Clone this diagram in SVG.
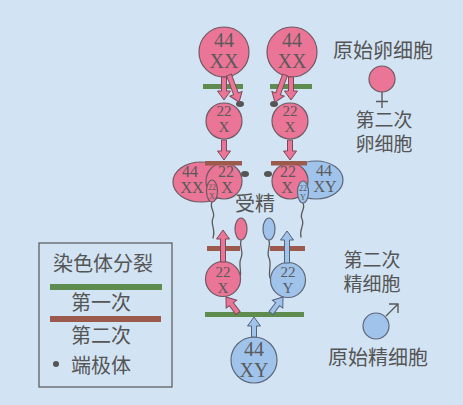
<svg xmlns="http://www.w3.org/2000/svg" width="463" height="405" viewBox="0 0 463 405">
  <style>
    .pink { fill: #ea7596; stroke: #6e5a63; stroke-width: 1.2; }
    .blue { fill: #9fc3ea; stroke: #5d6778; stroke-width: 1.2; }
    .arr-p { fill: #ea7596; stroke: #7a4a5a; stroke-width: 1; }
    .arr-b { fill: #9fc3ea; stroke: #55627a; stroke-width: 1; }
    .num { font-family: "Liberation Serif", "DejaVu Serif", serif; fill: #5a5a5a; text-anchor: middle; }
    .zh { font-family: "Noto Sans CJK SC", "Noto Sans", sans-serif; fill: #555555; text-anchor: middle; font-size: 20px; }
    .zh2 { font-family: "Liberation Sans", "Noto Sans CJK SC", sans-serif; fill: #555555; text-anchor: middle; font-size: 19px; }
    .green { fill: #5e8c4e; }
    .brown { fill: #9c5a4c; }
    .polar { fill: #555555; }
    .tail { fill: none; stroke: #5a5a5a; stroke-width: 1.3; stroke-linecap: round; }
  </style>

  <!-- background -->
  <rect x="0" y="0" width="463" height="405" fill="#d2e3f3"/>

  <!-- division bars -->
  <g id="bars">
    <rect class="green" x="203" y="84" width="40" height="5"/>
    <rect class="green" x="270" y="84" width="42" height="5"/>
    <rect class="green" x="205" y="312" width="99" height="5"/>
    <rect class="brown" x="207" y="246" width="33" height="5"/>
    <rect class="brown" x="270" y="246" width="35" height="5"/>
  </g>

  <!-- primary oocytes -->
  <g id="oocyte1">
    <circle class="pink" cx="224" cy="52" r="25"/>
    <text class="num" x="224" y="47" font-size="20">44</text>
    <text class="num" x="224" y="68" font-size="20">XX</text>
  </g>
  <g id="oocyte2">
    <circle class="pink" cx="292" cy="52" r="25"/>
    <text class="num" x="292" y="47" font-size="20">44</text>
    <text class="num" x="292" y="68" font-size="20">XX</text>
  </g>

  <!-- secondary oocytes -->
  <g id="secondary-oocyte1">
    <circle class="pink" cx="224" cy="121" r="18"/>
    <text class="num" x="224" y="116" font-size="15">22</text>
    <text class="num" x="224" y="132" font-size="15">X</text>
    <ellipse class="polar" cx="240" cy="104" rx="4" ry="3"/>
  </g>
  <g id="secondary-oocyte2">
    <circle class="pink" cx="290" cy="121" r="18"/>
    <text class="num" x="290" y="116" font-size="15">22</text>
    <text class="num" x="290" y="132" font-size="15">X</text>
    <ellipse class="polar" cx="274" cy="104" rx="4" ry="3"/>
  </g>

  <!-- fertilisation, left: XX zygote -->
  <g id="zygote-xx">
    <ellipse class="pink" cx="201" cy="182" rx="28" ry="20"/>
    <circle class="pink" cx="224" cy="181" r="18"/>
    <text class="num" x="190" y="177" font-size="16">44</text>
    <text class="num" x="192" y="193" font-size="16">XX</text>
    <text class="num" x="226" y="177" font-size="16">22</text>
    <text class="num" x="227" y="193" font-size="16">X</text>
    <path class="tail" d="M212,202 c-3,6 4,10 1,16 c-3,6 3,10 0,20"/>
    <ellipse class="pink" cx="212" cy="191" rx="5.5" ry="11"/>
    <text class="num" x="212" y="190" font-size="8">22</text>
    <text class="num" x="212" y="199" font-size="8">X</text>
    <rect class="brown" x="205" y="161" width="37" height="4.5"/>
    <ellipse class="polar" cx="245" cy="174" rx="4" ry="3"/>
  </g>

  <!-- fertilisation, right: XY zygote -->
  <g id="zygote-xy">
    <ellipse class="blue" cx="316" cy="180" rx="27" ry="19"/>
    <circle class="pink" cx="290" cy="181" r="18"/>
    <text class="num" x="324" y="176" font-size="16">44</text>
    <text class="num" x="325" y="192" font-size="16">XY</text>
    <text class="num" x="288" y="177" font-size="16">22</text>
    <text class="num" x="287" y="193" font-size="16">X</text>
    <path class="tail" d="M303,203 c3,6 -4,10 -1,16 c3,6 -3,10 -1,18"/>
    <ellipse class="blue" cx="303" cy="192" rx="5.5" ry="11"/>
    <text class="num" x="303" y="191" font-size="8">22</text>
    <text class="num" x="303" y="200" font-size="8">Y</text>
    <rect class="brown" x="271" y="161" width="36" height="4.5"/>
    <ellipse class="polar" cx="268" cy="174" rx="4" ry="3"/>
  </g>

  <!-- sperm -->
  <g id="sperm-x">
    <path class="tail" d="M241,240 c-2,7 3,12 0,18 c-3,6 1,12 -1,20"/>
    <ellipse class="pink" cx="241" cy="229" rx="6" ry="11"/>
  </g>
  <g id="sperm-y">
    <path class="tail" d="M269,240 c2,7 -3,12 0,18 c3,6 -1,12 1,20"/>
    <ellipse class="blue" cx="269" cy="229" rx="6" ry="11"/>
  </g>
  <text class="zh" x="255" y="211" font-size="19">受精</text>

  <!-- secondary spermatocytes -->
  <g id="secondary-spermatocyte-x">
    <circle class="pink" cx="223" cy="279" r="17.5"/>
    <text class="num" x="223" y="277" font-size="15">22</text>
    <text class="num" x="223" y="293" font-size="15">X</text>
  </g>
  <g id="secondary-spermatocyte-y">
    <circle class="blue" cx="288" cy="280" r="17.5"/>
    <text class="num" x="288" y="277" font-size="15">22</text>
    <text class="num" x="288" y="293" font-size="15">Y</text>
  </g>

  <!-- primary spermatocyte -->
  <g id="spermatocyte">
    <circle class="blue" cx="254" cy="360" r="23"/>
    <text class="num" x="254" y="356" font-size="20">44</text>
    <text class="num" x="254" y="377" font-size="20">XY</text>
  </g>

  <!-- connectors -->
  <g id="connectors">
    <path class="arr-p" d="M-2.5,0H2.5V14H6.5L0,23L-6.5,14H-2.5Z" transform="translate(224,77)"/>
    <path class="arr-p" d="M-2.5,0H2.5V20H6.5L0,29L-6.5,20H-2.5Z" transform="translate(229,75) rotate(-20.3)"/>
    <path class="arr-p" d="M-2.5,0H2.5V20H6.5L0,29L-6.5,20H-2.5Z" transform="translate(285,75) rotate(20.3)"/>
    <path class="arr-p" d="M-2.5,0H2.5V14H6.5L0,23L-6.5,14H-2.5Z" transform="translate(291,77)"/>
    <path class="arr-p" d="M-2.5,0H2.5V11H6.5L0,20L-6.5,11H-2.5Z" transform="translate(224,140)"/>
    <path class="arr-p" d="M-2.5,0H2.5V11H6.5L0,20L-6.5,11H-2.5Z" transform="translate(290,140)"/>
    <path class="arr-p" d="M-2.5,0H2.5V23H6.5L0,32L-6.5,23H-2.5Z" transform="translate(223,262) rotate(180)"/>
    <path class="arr-b" d="M-2.5,0H2.5V23H6.5L0,32L-6.5,23H-2.5Z" transform="translate(287,263) rotate(180)"/>
    <path class="arr-p" d="M-2.5,0H2.5V11H6.5L0,20L-6.5,11H-2.5Z" transform="translate(238,313) rotate(143.1)"/>
    <path class="arr-b" d="M-2.5,0H2.5V11H6.5L0,20L-6.5,11H-2.5Z" transform="translate(271,313) rotate(-143.1)"/>
    <path class="arr-b" d="M-2.5,0H2.5V11H6.5L0,20L-6.5,11H-2.5Z" transform="translate(254,337) rotate(180)"/>
  </g>

  <!-- right-hand labels -->
  <g id="female-labels">
    <text class="zh" x="383" y="58">原始卵细胞</text>
    <circle class="pink" cx="382" cy="79" r="13"/>
    <path d="M382,92 V108 M376,101.5 H388" stroke="#5a5a5a" stroke-width="1.4" fill="none"/>
    <text class="zh2" x="384" y="127">第二次</text>
    <text class="zh2" x="384" y="151">卵细胞</text>
  </g>
  <g id="male-labels">
    <text class="zh2" x="372" y="267">第二次</text>
    <text class="zh2" x="372" y="291">精细胞</text>
    <circle class="blue" cx="376" cy="326" r="13"/>
    <path d="M386,316 L398,304 M389,304 H398 V313" stroke="#5a5a5a" stroke-width="1.4" fill="none"/>
    <text class="zh" x="378" y="365">原始精细胞</text>
  </g>

  <!-- legend -->
  <g id="legend">
    <rect x="39" y="243" width="133" height="144" fill="none" stroke="#555555" stroke-width="1.2"/>
    <text class="zh" x="103" y="271">染色体分裂</text>
    <rect class="green" x="50" y="284" width="112" height="6"/>
    <text class="zh" x="101" y="310">第一次</text>
    <rect class="brown" x="50" y="316" width="111" height="6"/>
    <text class="zh" x="101" y="343">第二次</text>
    <circle class="polar" cx="56" cy="364" r="3"/>
    <text class="zh" x="101" y="373">端极体</text>
  </g>
</svg>
